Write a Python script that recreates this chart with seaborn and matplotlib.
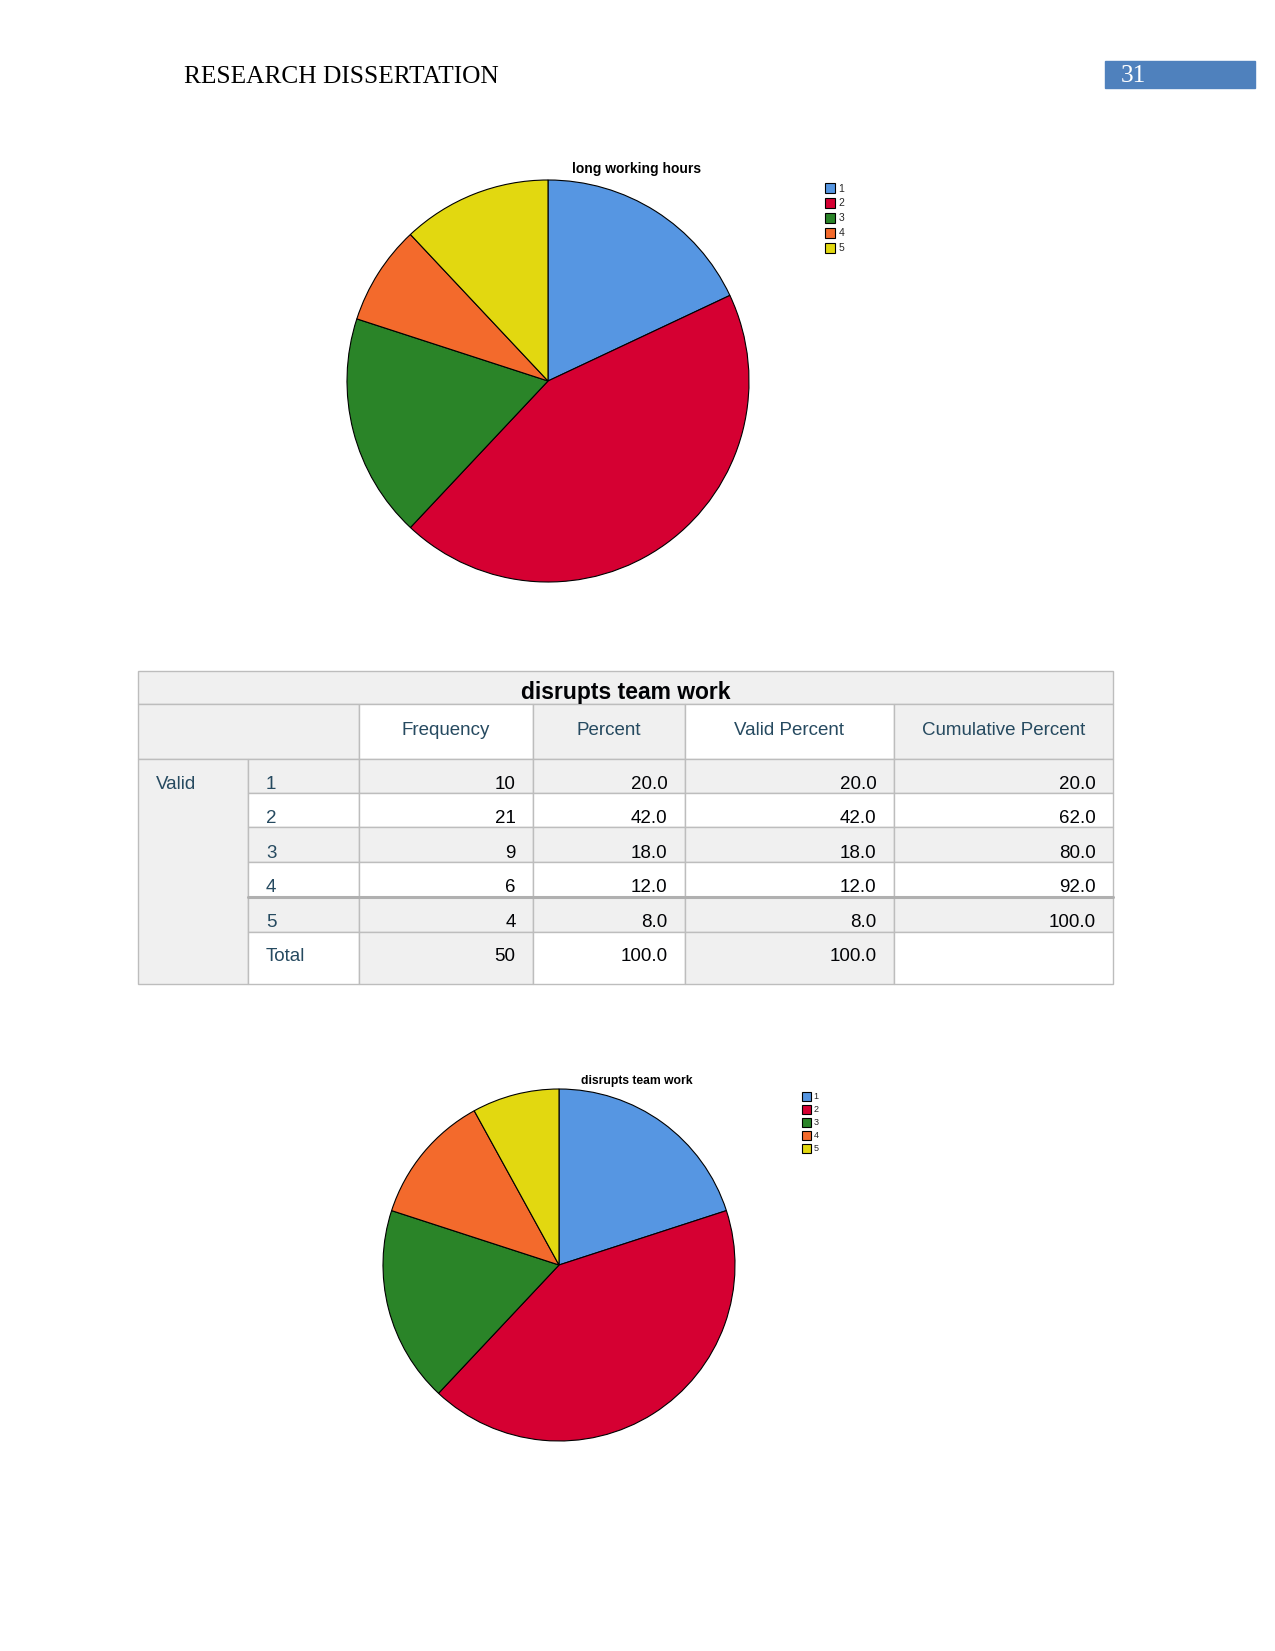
#%% Datos
import numpy as np
import matplotlib.pyplot as plt
import seaborn as sns
from matplotlib.patches import Rectangle

sns.set_style("white")
plt.rcParams['font.family'] = ['Liberation Sans', 'DejaVu Sans']

categories = ["1", "2", "3", "4", "5"]
# long working hours
long_hours = [9, 22, 9, 4, 6]
# disrupts team work (tabla)
frequency = [10, 21, 9, 6, 4]
percent = [20.0, 42.0, 18.0, 12.0, 8.0]
valid_percent = [20.0, 42.0, 18.0, 12.0, 8.0]
cumulative_percent = [20.0, 62.0, 80.0, 92.0, 100.0]
total_freq = 50
total_percent = 100.0
total_valid = 100.0
columns = ["Frequency", "Percent", "Valid Percent", "Cumulative Percent"]

pal = sns.color_palette(["#5696e2", "#d50032", "#2a8428", "#f36a2c", "#e2d810"])

W, H = 1275, 1651
fig = plt.figure(figsize=(W / 100, H / 100), dpi=100)

def frac(left, top, w, h):
    return [left / W, 1 - (top + h) / H, w / W, h / H]

#%% Pagina y tabla
page = fig.add_axes([0, 0, 1, 1])
page.set_xlim(0, W)
page.set_ylim(H, 0)
page.axis("off")

page.text(184, 77, "RESEARCH DISSERTATION", fontsize=18.3, family="Liberation Serif",
          va="center", ha="left", color="black")
page.add_patch(Rectangle((1105, 61), 150, 27, color="#4f81bd"))
page.text(1121, 76, "31", fontsize=18.3, family="Liberation Serif", color="white",
          va="center", ha="left")

xs = [138, 248, 359, 533, 685, 894, 1113]
ys = [670.6, 704.3, 759.1, 793.2, 827.5, 862.2, 897.0, 931.6, 984.4]
gray = "#f0f0f0"
line = "#bdbdbd"
lab_col = "#264a60"
num_col = "#010205"

def cell(x0, x1, y0, y1, fc):
    page.add_patch(Rectangle((x0, y0), x1 - x0, y1 - y0, facecolor=fc, edgecolor=line, lw=1))

# titulo
cell(xs[0], xs[6], ys[0], ys[1], gray)
page.text((xs[0] + xs[6]) / 2, ys[0] + 28.5, "disrupts team work", fontsize=16.5,
          fontweight="bold", ha="center", va="baseline", color=num_col)
# encabezado
cell(xs[0], xs[2], ys[1], ys[2], gray)
for j, name in enumerate(columns):
    fc = "white" if j % 2 == 0 else gray
    cell(xs[j + 2], xs[j + 3], ys[1], ys[2], fc)
    page.text((xs[j + 2] + xs[j + 3]) / 2, ys[1] + 30.5, name, fontsize=13.5,
              ha="center", va="baseline", color=lab_col)
# columna Valid
cell(xs[0], xs[1], ys[2], ys[8], gray)
page.text(156, ys[2] + 30, "Valid", fontsize=13.5, ha="left", va="baseline", color=lab_col)

pad = 17.5
for i, cat in enumerate(categories):
    fc = gray if i % 2 == 0 else "white"
    y0, y1 = ys[i + 2], ys[i + 3]
    for j in range(1, 6):
        cell(xs[j], xs[j + 1], y0, y1, fc)
    page.text(266, y0 + 30, cat, fontsize=13.5, ha="left", va="baseline", color=lab_col)
    vals = [f"{frequency[i]}", f"{percent[i]:.1f}", f"{valid_percent[i]:.1f}",
            f"{cumulative_percent[i]:.1f}"]
    for j, v in enumerate(vals):
        page.text(xs[j + 3] - pad, y0 + 30, v, fontsize=13.5, ha="right",
                  va="baseline", color=num_col)

# fila total
y0, y1 = ys[7], ys[8]
tot_fc = ["white", gray, "white", gray, "white"]
for j in range(1, 6):
    cell(xs[j], xs[j + 1], y0, y1, tot_fc[j - 1])
page.text(266, y0 + 29, "Total", fontsize=13.5, ha="left", va="baseline", color=lab_col)
for j, v in enumerate([f"{total_freq}", f"{total_percent:.1f}", f"{total_valid:.1f}"]):
    page.text(xs[j + 3] - pad, y0 + 29, v, fontsize=13.5, ha="right",
              va="baseline", color=num_col)
# linea doble entre 4 y 5
page.plot([xs[1], xs[6]], [ys[6], ys[6]], color="#b0b0b0", lw=2.2)

#%% Graficos de sectores
def pie_chart(rect, values, title, title_xy, title_fs, leg_xy, leg_fs, leg_sp):
    ax = fig.add_axes(rect)
    wedges, _ = ax.pie(values, colors=pal, startangle=90, counterclock=False,
                       wedgeprops=dict(edgecolor="black", linewidth=0.8))
    for w in wedges:
        w.set_clip_on(False)
    ax.set_xlim(-1, 1)
    ax.set_ylim(-1, 1)
    ax.set_aspect("equal")
    ax.axis("off")
    page.text(title_xy[0], title_xy[1], title, fontsize=title_fs, fontweight="bold",
              ha="center", va="center", color="black")
    fig.legend(wedges, categories, loc="upper left",
               bbox_to_anchor=(leg_xy[0] / W, 1 - leg_xy[1] / H),
               frameon=False, fontsize=leg_fs, handlelength=1.0, handleheight=1.1,
               handletextpad=0.3, labelspacing=leg_sp, borderpad=0, borderaxespad=0)
    return ax

pie_chart(frac(347, 180, 402, 402), long_hours, "long working hours", (637, 169), 10,
          (825, 183), 7.5, 0.42)
pie_chart(frac(383, 1089, 352, 352), frequency, "disrupts team work", (637, 1081), 8.7,
          (802, 1092), 6.5, 0.40)

fig.savefig("out.png", dpi=100)
